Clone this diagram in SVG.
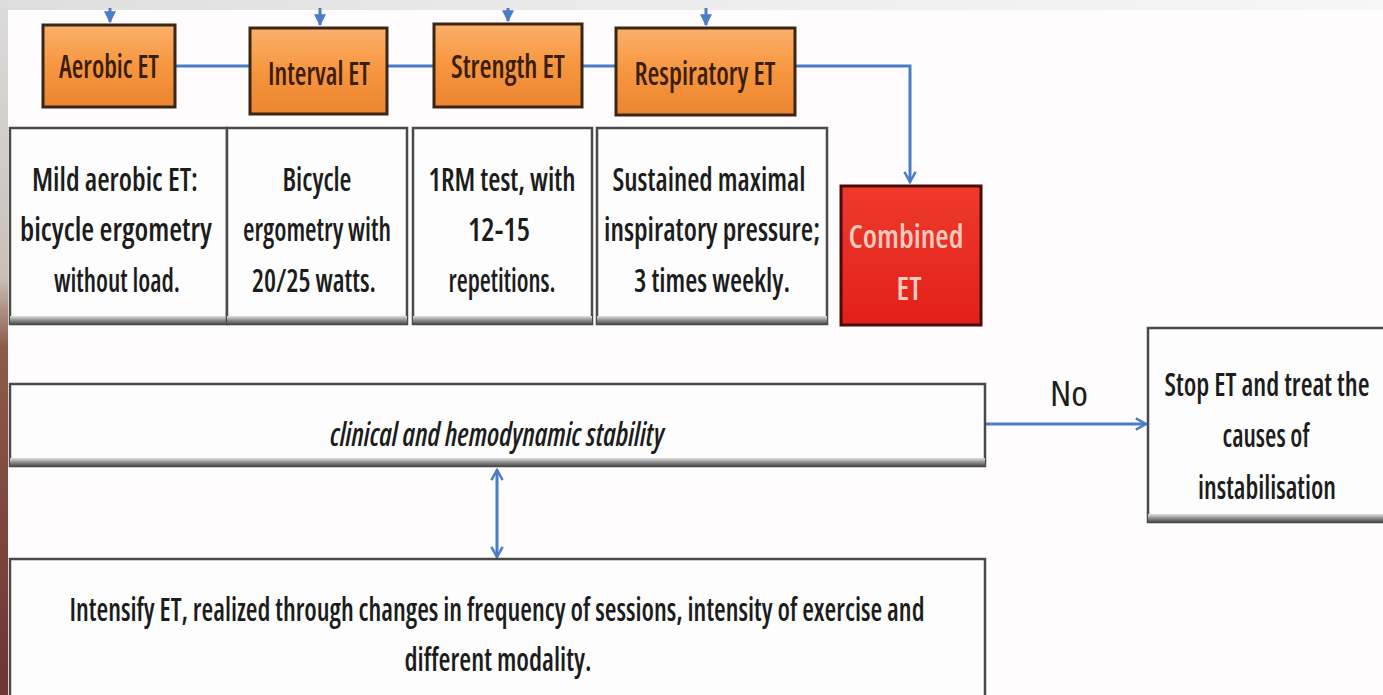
<svg xmlns="http://www.w3.org/2000/svg" width="1383" height="695" viewBox="0 0 1383 695">
<defs>
<style>
.t{font-family:"Open Sans","Liberation Sans",sans-serif;font-size:33px;font-weight:600;font-stretch:75%;fill:#1c1c1c;text-anchor:middle}
.ot{font-family:"Open Sans","Liberation Sans",sans-serif;font-size:32px;font-weight:600;font-stretch:75%;fill:#3a1e0c;text-anchor:middle}
.orange{fill:url(#og);stroke:#3a2614;stroke-width:3}
.wbox{fill:#fdfdfd;stroke:#4a4a4a;stroke-width:2.5}
.conn{fill:none;stroke:#4a7cc8;stroke-width:3}
</style>
<linearGradient id="og" x1="0" y1="0" x2="0" y2="1">
<stop offset="0" stop-color="#fbb06a"/><stop offset="0.5" stop-color="#f7963f"/><stop offset="1" stop-color="#ec8530"/>
</linearGradient>
<linearGradient id="rg" x1="0" y1="0" x2="0" y2="1">
<stop offset="0" stop-color="#ee3a2c"/><stop offset="1" stop-color="#e2201a"/>
</linearGradient>
<linearGradient id="sh" x1="0" y1="0" x2="0" y2="1">
<stop offset="0" stop-color="#e0e0e0"/><stop offset="0.5" stop-color="#8a8a8a"/><stop offset="1" stop-color="#3e3e3e"/>
</linearGradient>
<linearGradient id="lg" x1="0" y1="0" x2="0" y2="1">
<stop offset="0" stop-color="#dcdcdc"/><stop offset="0.4" stop-color="#c9bfb6"/><stop offset="0.5" stop-color="#8e5a48"/><stop offset="1" stop-color="#6c3434"/>
</linearGradient>
<linearGradient id="tg" x1="0" y1="0" x2="1" y2="0">
<stop offset="0" stop-color="#dedede"/><stop offset="0.6" stop-color="#efefef"/><stop offset="1" stop-color="#f6f6f6"/>
</linearGradient>
<marker id="tri" viewBox="0 0 10 10" refX="9" refY="5" markerWidth="4" markerHeight="4" orient="auto">
<path d="M0,0 L10,5 L0,10 z" fill="#4a7cc8"/>
</marker>
<marker id="chev" viewBox="0 0 12 12" refX="10" refY="6" markerWidth="4.5" markerHeight="4.5" orient="auto-start-reverse">
<path d="M1,1 L10,6 L1,11" fill="none" stroke="#4a7cc8" stroke-width="2.2"/>
</marker>
</defs>
<rect x="0" y="0" width="1383" height="695" fill="#fefcfc"/>
<rect x="0" y="0" width="1383" height="10" fill="url(#tg)"/>
<rect x="0" y="0" width="8" height="695" fill="url(#lg)"/>

<g id="connectors">
<line class="conn" x1="110" y1="8" x2="110" y2="22" marker-end="url(#tri)"/>
<line class="conn" x1="320" y1="8" x2="320" y2="25" marker-end="url(#tri)"/>
<line class="conn" x1="508" y1="8" x2="508" y2="21" marker-end="url(#tri)"/>
<line class="conn" x1="706" y1="8" x2="706" y2="25" marker-end="url(#tri)"/>
<path class="conn" d="M175,66 H250 M387,66 H434 M582,66 H616"/>
<path class="conn" d="M795,66 H910 V182" marker-end="url(#chev)"/>
<line class="conn" x1="985" y1="424" x2="1146" y2="424" marker-end="url(#chev)"/>
<line class="conn" x1="497" y1="470" x2="497" y2="557" marker-start="url(#chev)" marker-end="url(#chev)"/>
</g>

<g id="aerobic">
<rect class="orange" x="43" y="25" width="132" height="82"/>
<text class="ot" x="109" y="78" textLength="100" lengthAdjust="spacingAndGlyphs">Aerobic ET</text>
</g>
<g id="interval">
<rect class="orange" x="250" y="28" width="137" height="86"/>
<text class="ot" x="319" y="85" textLength="102" lengthAdjust="spacingAndGlyphs">Interval ET</text>
</g>
<g id="strength">
<rect class="orange" x="434" y="24" width="148" height="83"/>
<text class="ot" x="508" y="78" textLength="114" lengthAdjust="spacingAndGlyphs">Strength ET</text>
</g>
<g id="respiratory">
<rect class="orange" x="616" y="28" width="179" height="87"/>
<text class="ot" x="705" y="85" textLength="141" lengthAdjust="spacingAndGlyphs">Respiratory ET</text>
</g>

<g id="desc-aerobic">
<rect class="wbox" x="10" y="128" width="217" height="196"/>
<rect x="10" y="316" width="217" height="9" fill="url(#sh)"/>
<text class="t" x="115" y="191" textLength="166" lengthAdjust="spacingAndGlyphs">Mild aerobic ET:</text>
<text class="t" x="116" y="241" textLength="192" lengthAdjust="spacingAndGlyphs">bicycle ergometry</text>
<text class="t" x="117" y="292" textLength="126" lengthAdjust="spacingAndGlyphs">without load.</text>
</g>
<g id="desc-interval">
<rect class="wbox" x="227" y="128" width="180" height="196"/>
<rect x="227" y="316" width="180" height="9" fill="url(#sh)"/>
<text class="t" x="317" y="191" textLength="69" lengthAdjust="spacingAndGlyphs">Bicycle</text>
<text class="t" x="317" y="241" textLength="148" lengthAdjust="spacingAndGlyphs">ergometry with</text>
<text class="t" x="314" y="292" textLength="124" lengthAdjust="spacingAndGlyphs">20/25 watts.</text>
</g>
<g id="desc-strength">
<rect class="wbox" x="413" y="128" width="179" height="196"/>
<rect x="413" y="316" width="179" height="9" fill="url(#sh)"/>
<text class="t" x="502" y="191" textLength="147" lengthAdjust="spacingAndGlyphs">1RM test, with</text>
<text class="t" x="499" y="241" textLength="62" lengthAdjust="spacingAndGlyphs">12-15</text>
<text class="t" x="502" y="292" textLength="107" lengthAdjust="spacingAndGlyphs">repetitions.</text>
</g>
<g id="desc-respiratory">
<rect class="wbox" x="597" y="128" width="230" height="196"/>
<rect x="597" y="316" width="230" height="9" fill="url(#sh)"/>
<text class="t" x="709" y="191" textLength="193" lengthAdjust="spacingAndGlyphs">Sustained maximal</text>
<text class="t" x="712" y="241" textLength="216" lengthAdjust="spacingAndGlyphs">inspiratory pressure;</text>
<text class="t" x="712" y="292" textLength="156" lengthAdjust="spacingAndGlyphs">3 times weekly.</text>
</g>

<g id="combined">
<rect x="841" y="186" width="140" height="139" fill="url(#rg)" stroke="#4a0c08" stroke-width="3"/>
<text class="t" x="906" y="248" textLength="115" lengthAdjust="spacingAndGlyphs" style="fill:#f6c9bd">Combined</text>
<text class="t" x="909" y="300" textLength="25" lengthAdjust="spacingAndGlyphs" style="fill:#f6c9bd">ET</text>
</g>

<g id="stability">
<rect class="wbox" x="10" y="384" width="975" height="82"/>
<rect x="10" y="458" width="975" height="9" fill="url(#sh)"/>
<text class="t" x="497" y="446" textLength="334" lengthAdjust="spacingAndGlyphs" style="font-style:italic">clinical and hemodynamic stability</text>
</g>

<g id="no-label">
<text class="t" x="1069" y="406" textLength="38" lengthAdjust="spacingAndGlyphs" style="font-size:34px;font-weight:400">No</text>
</g>

<g id="stop">
<rect class="wbox" x="1148" y="328" width="240" height="194"/>
<rect x="1148" y="514" width="240" height="9" fill="url(#sh)"/>
<text class="t" x="1267" y="396" textLength="205" lengthAdjust="spacingAndGlyphs">Stop ET and treat the</text>
<text class="t" x="1266" y="447" textLength="87" lengthAdjust="spacingAndGlyphs">causes of</text>
<text class="t" x="1267" y="499" textLength="138" lengthAdjust="spacingAndGlyphs">instabilisation</text>
</g>

<g id="intensify">
<rect class="wbox" x="10" y="559" width="975" height="140"/>
<text class="t" x="497" y="621" textLength="855" lengthAdjust="spacingAndGlyphs">Intensify ET, realized through changes in frequency of sessions, intensity of exercise and</text>
<text class="t" x="498" y="671" textLength="187" lengthAdjust="spacingAndGlyphs">different modality.</text>
</g>
</svg>
